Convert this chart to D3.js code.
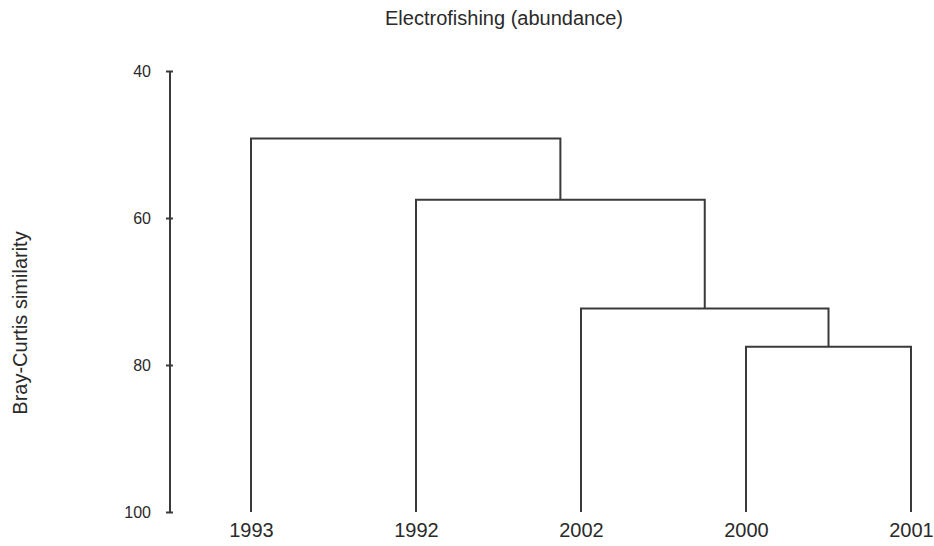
<!DOCTYPE html>
<html>
<head>
<meta charset="utf-8">
<script src="https://cdn.jsdelivr.net/npm/d3@7"></script>
<style>
  body { margin: 0; background: #fff; }
  svg { display: block; font-family: "Liberation Sans", Arial, sans-serif; }
</style>
</head>
<body>
<svg id="chart" width="934" height="546"></svg>
<script>
// ---- data ----
const title = "Electrofishing (abundance)";
const yLabel = "Bray-Curtis similarity";
const leaves = ["1993", "1992", "2002", "2000", "2001"];
// merges: children (leaf names or "c<i>" for earlier merge i) and similarity level
const mergeLeft  = ["2000", "2002", "1992", "1993"];
const mergeRight = ["2001", "c0",   "c1",   "c2"];
const mergeSim   = [77.5,   72.3,   57.5,   49.2];
const yTicks = [40, 60, 80, 100];

// ---- layout ----
const svg = d3.select("#chart");
const stroke = "#3a3a3a";

const x = d3.scalePoint().domain(leaves).range([251, 911]);
const y = d3.scaleLinear().domain([40, 100]).range([71, 512]);

// positions of nodes
const pos = {};
leaves.forEach(l => pos[l] = { x: x(l), y: y(100) });
mergeSim.forEach((s, i) => {
  const a = pos[mergeLeft[i]], b = pos[mergeRight[i]];
  pos["c" + i] = { x: (a.x + b.x) / 2, y: y(s) };
});

// dendrogram links
const g = svg.append("g");
mergeSim.forEach((s, i) => {
  const a = pos[mergeLeft[i]], b = pos[mergeRight[i]];
  const yy = y(s);
  g.append("path")
    .attr("d", `M${a.x},${a.y}V${yy}H${b.x}V${b.y}`)
    .attr("fill", "none")
    .attr("stroke", stroke)
    .attr("stroke-width", 2);
});

// y axis
const yAxis = d3.axisLeft(y).tickValues(yTicks).tickSize(4).tickPadding(15);
const ya = svg.append("g").attr("transform", "translate(170,0)").call(yAxis);
ya.select(".domain").attr("stroke", stroke).attr("stroke-width", 2).attr("d", `M0,${y(40)}V${y(100)}`);
ya.selectAll(".tick line").attr("stroke", stroke).attr("stroke-width", 2).attr("x1", 3);
ya.selectAll(".tick text").attr("font-size", 16).attr("fill", "#2a2a2a")
  .attr("font-family", "Liberation Sans, Arial, sans-serif");

// leaf labels
const xAxis = d3.axisBottom(x).tickSize(0).tickPadding(11);
const xa = svg.append("g").attr("transform", `translate(0,${y(100)})`).call(xAxis);
xa.select(".domain").remove();
xa.selectAll(".tick text").attr("font-size", 20).attr("fill", "#2a2a2a")
  .attr("font-family", "Liberation Sans, Arial, sans-serif");

// title
svg.append("text").attr("x", 504).attr("y", 25).attr("text-anchor", "middle")
  .attr("font-size", 20).attr("fill", "#2a2a2a").text(title);

// y label
svg.append("text").attr("transform", "translate(27,323) rotate(-90)")
  .attr("text-anchor", "middle").attr("font-size", 20).attr("fill", "#2a2a2a").text(yLabel);
</script>
</body>
</html>
